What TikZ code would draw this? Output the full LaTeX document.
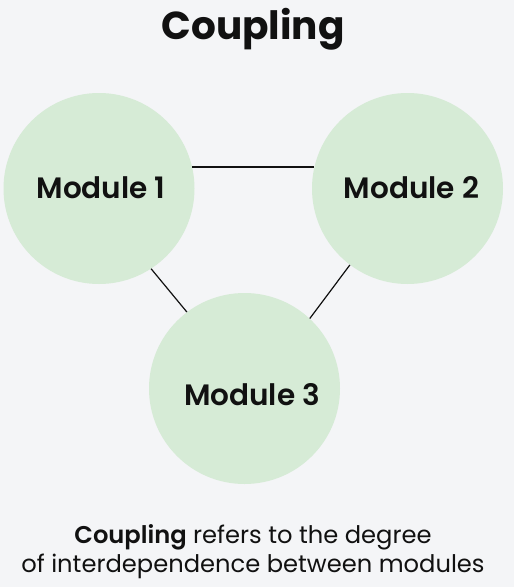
\documentclass[tikz,border=0pt]{standalone}
\usepackage{fontspec}
\setmainfont{Poppins}
\newfontfamily\semib{Poppins SemiBold}
\definecolor{bg}{HTML}{F4F5F7}
\definecolor{modfill}{HTML}{D6EBD6}
\definecolor{ink}{HTML}{111111}
\begin{document}
\begin{tikzpicture}[x=1pt,y=-1pt,
  module/.style={circle,fill=modfill,draw=none,minimum size=191pt,inner sep=0pt},
  modlabel/.style={font=\fontsize{29.5}{32}\selectfont\semib,text=ink,inner sep=0pt,anchor=base},
  desc/.style={font=\fontsize{24.2}{29}\selectfont,text=ink,anchor=base,inner sep=0pt},
  link/.style={draw=ink,line width=1.2pt}]
\fill[bg] (0,0) rectangle (514,587);
\useasboundingbox (0,0) rectangle (514,587);
\node[font=\fontsize{39}{42}\selectfont\bfseries,text=ink,anchor=base,inner sep=0pt] (title) at (253,39) {Coupling};
\node[module] (m1) at (99,188.5) {};
\node[module] (m2) at (407.5,188.5) {};
\node[module] (m3) at (244.5,388.5) {};
\node[modlabel] (l1) at (101,198) {Module 1};
\node[modlabel] (l2) at (411.5,198) {Module 2};
\node[modlabel] (l3) at (252,405) {Module 3};
\draw[link] (m1.13) -- (m2.167);
\draw[link] (m1.-57) -- (m3.127);
\draw[link] (m2.-127) -- (m3.47);
\node[desc] (d1) at (253,543) {{\semib Coupling} refers to the degree};
\node[desc] (d2) at (253,572) {of interdependence between modules};
\end{tikzpicture}
\end{document}
